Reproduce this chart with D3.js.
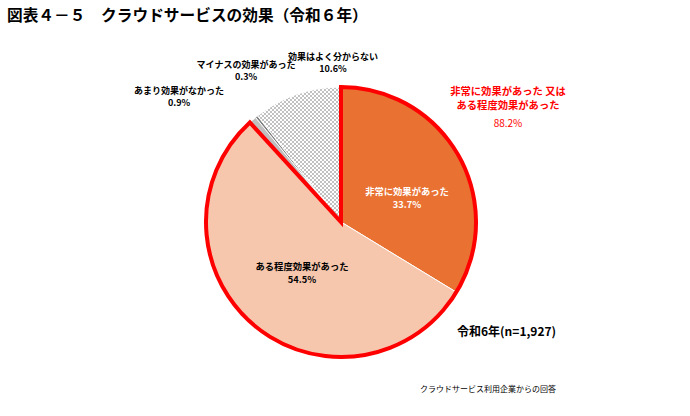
<!DOCTYPE html>
<html>
<head>
<meta charset="utf-8">
<script src="https://cdn.jsdelivr.net/npm/d3@7"></script>
<style>
  body { margin: 0; background: #fff; }
  text { font-family: "Noto Sans CJK JP", "Noto Sans", sans-serif; }
</style>
</head>
<body>
<div id="chart"></div>
<script>
(function() {

// chart data
var categories = ["非常に効果があった", "ある程度効果があった", "あまり効果がなかった",
                  "マイナスの効果があった", "効果はよく分からない"];
var values = [33.7, 54.5, 0.9, 0.3, 10.6];
var valueLabels = ["33.7%", "54.5%", "0.9%", "0.3%", "10.6%"];
var combinedLabel = ["非常に効果があった 又は", "ある程度効果があった"];
var combinedValue = "88.2%";

var titleText = "図表４－５　クラウドサービスの効果（令和６年）";
var seriesText = "令和6年(n=1,927)";
var noteText = "クラウドサービス利用企業からの回答";

var width = 690, height = 416;
var cx = 341, cy = 222, radius = 135;

// label anchors, relative to the pie centre
var labelOffsets = [[66, -27], [-39, 48], [-162, -128], [-95, -154], [-8, -162]];
var labelColors = ["#fff", "#000", "#000", "#000", "#000"];
var labelSizes = [9.3, 9.3, 9, 9, 9];

var sliceFills = ["#E97132", "#F6C6AD", "#BFBFBF", "#7F7F7F", "url(#hatch)"];

var svg = d3.select("#chart").append("svg")
            .attr("width", width)
            .attr("height", height);

// crosshatch for the "don't know" slice
var defs = svg.append("defs");
var hatch = defs.append("pattern")
                .attr("id", "hatch")
                .attr("patternUnits", "userSpaceOnUse")
                .attr("width", 4)
                .attr("height", 4);
hatch.append("rect").attr("width", 4).attr("height", 4).attr("fill", "#fff");
hatch.append("path")
     .attr("d", "M0,0L4,4M4,0L0,4")
     .attr("stroke", "#A6A6A6")
     .attr("stroke-width", 0.7);

svg.append("text")
   .attr("x", 7)
   .attr("y", 21)
   .attr("font-size", 15.7)
   .attr("font-weight", "bold")
   .text(titleText);

var pie = d3.pie().sort(null).value(function(d) { return d; });
var arcs = pie(values);
var arc = d3.arc().innerRadius(0).outerRadius(radius);

var g = svg.append("g")
           .attr("transform", "translate(" + cx + "," + cy + ")");

g.selectAll("path.slice")
 .data(arcs)
 .enter().append("path")
   .attr("class", "slice")
   .attr("d", arc)
   .attr("fill", function(d, i) { return sliceFills[i]; })
   .attr("stroke", "#fff")
   .attr("stroke-width", 1);

// red outline around the two "effective" slices together
g.append("path")
 .attr("d", arc({startAngle: arcs[0].startAngle, endAngle: arcs[1].endAngle}))
 .attr("fill", "none")
 .attr("stroke", "#FF0000")
 .attr("stroke-width", 4)
 .attr("stroke-linejoin", "miter");

// each label is one text with two lines
var labels = g.selectAll("text.label")
              .data(arcs)
              .enter().append("text")
                .attr("class", "label")
                .attr("transform", function(d, i) {
                    return "translate(" + labelOffsets[i][0] + "," + labelOffsets[i][1] + ")";
                })
                .attr("text-anchor", "middle")
                .attr("font-weight", "bold")
                .attr("fill", function(d, i) { return labelColors[i]; })
                .attr("font-size", function(d, i) { return labelSizes[i]; });
labels.append("tspan")
      .attr("x", 0)
      .attr("y", 0)
      .text(function(d, i) { return categories[i]; });
labels.append("tspan")
      .attr("x", 0)
      .attr("y", function(d, i) { return i < 2 ? 12.5 : 12.2; })
      .text(function(d, i) { return valueLabels[i]; });

// combined callout in red
var callout = svg.append("text")
                 .attr("transform", "translate(508,95)")
                 .attr("text-anchor", "middle")
                 .attr("fill", "#FF0000");
combinedLabel.forEach(function(line, i) {
    callout.append("tspan")
           .attr("x", 0)
           .attr("y", i * 13.9)
           .attr("font-size", 10.3)
           .attr("font-weight", "bold")
           .text(line);
});
callout.append("tspan")
       .attr("x", 0)
       .attr("y", 32)
       .attr("font-size", 10)
       .text(combinedValue);

svg.append("text")
   .attr("x", 457)
   .attr("y", 336)
   .attr("font-size", 12)
   .attr("font-weight", "bold")
   .text(seriesText);

svg.append("text")
   .attr("x", 420)
   .attr("y", 392)
   .attr("font-size", 8)
   .text(noteText);

})();
</script>
</body>
</html>
